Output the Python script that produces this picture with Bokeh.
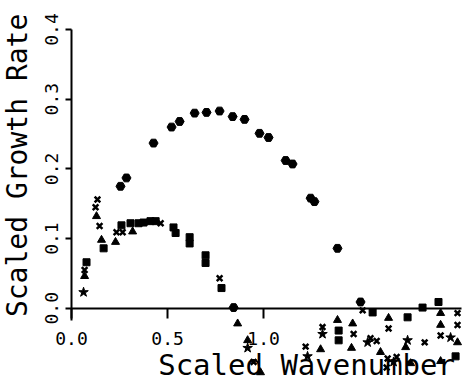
import math
from bokeh.plotting import figure
from bokeh.models import FixedTicker, Label, PrintfTickFormatter
from bokeh.embed import file_html
from bokeh.resources import INLINE

# Upper dispersion curve (house-shaped markers)
hex_x = [0.255, 0.286, 0.427, 0.521, 0.563, 0.641, 0.703, 0.771, 0.839, 0.901,
         0.979, 1.026, 1.115, 1.151, 1.245, 1.265, 1.385, 0.844, 1.505]
hex_y = [0.175, 0.187, 0.237, 0.260, 0.268, 0.280, 0.281, 0.283, 0.275, 0.271,
         0.251, 0.245, 0.212, 0.207, 0.158, 0.153, 0.086, 0.001, 0.009]

# Squares
sq_x = [0.078, 0.167, 0.260, 0.307, 0.349, 0.375, 0.411, 0.438, 0.531, 0.542,
        0.615, 0.615, 0.698, 0.698, 0.781, 1.391, 1.391, 1.568, 1.750, 1.828,
        1.911, 2.000]
sq_y = [0.066, 0.086, 0.119, 0.122, 0.122, 0.123, 0.125, 0.125, 0.116, 0.108,
        0.102, 0.093, 0.076, 0.065, 0.029, -0.032, -0.046, -0.006, -0.013, 0.001,
        0.009, -0.069]

# Triangles
tri_x = [0.068, 0.130, 0.156, 0.229, 0.318, 0.865, 0.917, 0.984, 1.297, 1.385,
         1.464, 1.458, 1.651, 1.922, 1.922, 2.010, 1.740, 1.609, 1.766, 1.922]
tri_y = [0.046, 0.132, 0.098, 0.095, 0.110, -0.022, -0.046, -0.092, -0.059, -0.017,
         -0.022, -0.057, -0.014, -0.007, -0.024, -0.049, -0.056, -0.063, -0.079, -0.076]

# Crosses
x_x = [0.068, 0.135, 0.125, 0.146, 0.234, 0.266, 0.464, 0.771, 0.948, 1.219,
       1.307, 1.516, 1.469, 1.651, 1.557, 1.589, 1.922, 2.010, 2.010, 1.839,
       1.646, 1.641, 1.693]
x_y = [0.055, 0.156, 0.145, 0.118, 0.109, 0.109, 0.122, 0.043, -0.077, -0.055,
       -0.027, -0.003, -0.037, -0.029, -0.043, -0.047, -0.039, -0.007, -0.024, -0.049,
       -0.072, -0.085, -0.070]

# Stars
star_x = [0.0625, 0.917, 1.229, 1.307, 1.542, 1.974, 1.750, 1.677]
star_y = [0.023, -0.057, -0.069, -0.037, -0.049, -0.042, -0.046, -0.077]

x_ticks = [0.0, 0.5, 1.0]
y_ticks = [0.0, 0.1, 0.2, 0.3, 0.4]
x_title = "Scaled Wavenumber"
y_title = "Scaled Growth Rate"

FONT = "DejaVu Sans Mono"

p = figure(width=462, height=390, x_range=(-0.370, 2.036), y_range=(-0.118, 0.4416),
           output_backend="svg", toolbar_location=None, min_border=0)
p.outline_line_color = None
p.xgrid.grid_line_color = None
p.ygrid.grid_line_color = None

p.scatter(hex_x, hex_y, marker="hex", size=9, color="black")
p.scatter(sq_x, sq_y, marker="square", size=7, color="black")
p.scatter(tri_x, tri_y, marker="triangle", size=8, color="black")
p.scatter(x_x, x_y, marker="x", size=8, line_color="black", line_width=2.5)
p.scatter(star_x, star_y, marker="star", size=10, color="black")

xa = p.xaxis[0]
xa.fixed_location = 0
xa.bounds = (0, 2.03)
xa.ticker = FixedTicker(ticks=x_ticks)
xa.formatter = PrintfTickFormatter(format="%.1f")
xa.axis_line_width = 2
xa.major_tick_line_width = 2
xa.major_tick_out = 10
xa.major_tick_in = 0
xa.minor_tick_out = 0
xa.minor_tick_in = 0
xa.major_label_standoff = 14
xa.major_label_text_font = FONT
xa.major_label_text_font_size = "18px"
xa.major_label_text_color = "black"

ya = p.yaxis[0]
ya.fixed_location = 0
ya.bounds = (-0.017, 0.40)
ya.ticker = FixedTicker(ticks=y_ticks)
ya.formatter = PrintfTickFormatter(format="%.1f")
ya.axis_line_width = 2
ya.major_tick_line_width = 2
ya.major_tick_out = 6
ya.major_tick_in = 0
ya.minor_tick_out = 0
ya.minor_tick_in = 0
ya.major_label_orientation = "vertical"
ya.major_label_standoff = 8
ya.major_label_text_font = FONT
ya.major_label_text_font_size = "18px"
ya.major_label_text_color = "black"

p.add_layout(Label(x=1.224, y=-0.081, text=x_title, text_align="center",
                   text_baseline="middle", text_font=FONT, text_font_size="29px",
                   text_color="black"))
p.add_layout(Label(x=-0.281, y=0.205, text=y_title, angle=math.pi / 2,
                   text_align="center", text_baseline="middle", text_font=FONT,
                   text_font_size="28px", text_color="black"))

open("out.html", "w").write(file_html(p, INLINE))
